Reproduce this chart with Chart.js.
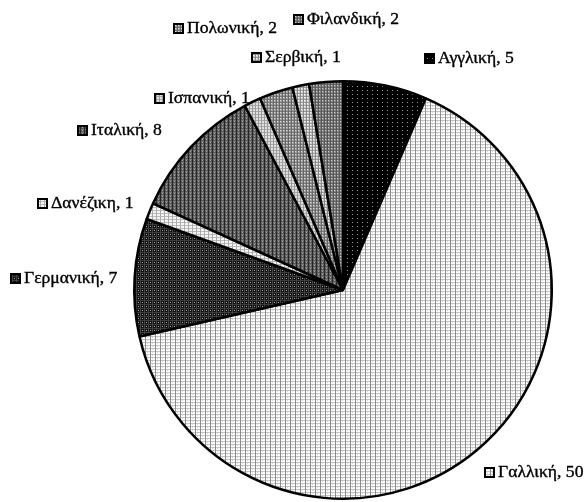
<!DOCTYPE html>
<html>
<head>
<meta charset="utf-8">
<script src="https://cdn.jsdelivr.net/npm/chart.js@4.4.0/dist/chart.umd.min.js"></script>
<style>
html,body{margin:0;padding:0;background:#fff;}
#wrap{width:588px;height:502px;}
</style>
</head>
<body>
<div id="wrap"><canvas id="c" width="588" height="502"></canvas></div>
<script>
const categories = ["Αγγλική","Γαλλική","Γερμανική","Δανέζικη","Ιταλική","Ισπανική","Πολωνική","Σερβική","Φιλανδική"];
const values = [5,50,7,1,8,1,2,1,2];

const patternSpecs = [
  {w:5,h:4,bg:"#000",v:null,h1:null,dot:"#9a9a9a"},
  {w:5,h:3,bg:"#fff",v:"#8a8a8a",h1:"#c4c4c4",dot:"#d8d8d8"},
  {w:4,h:4,bg:"#111",v:"#444",h1:"#3a3a3a",dot:"#b0b0b0"},
  {w:4,h:3,bg:"#f4f4f4",v:"#aaa",h1:"#bbb",dot:null},
  {w:4,h:3,bg:"#555",v:"#262626",h1:"#767676",dot:"#aaa"},
  {w:3,h:3,bg:"#e0e0e0",v:"#999",h1:"#aaa",dot:null},
  {w:3,h:3,bg:"#a0a0a0",v:"#666",h1:"#777",dot:"#ddd"},
  {w:3,h:3,bg:"#d0d0d0",v:"#888",h1:"#999",dot:"#fff"},
  {w:3,h:3,bg:"#888",v:"#555",h1:"#666",dot:"#ccc"}
];

function makePattern(ctx, s){
  const t = document.createElement("canvas");
  t.width = s.w; t.height = s.h;
  const g = t.getContext("2d");
  g.fillStyle = s.bg; g.fillRect(0,0,s.w,s.h);
  if (s.h1){ g.fillStyle = s.h1; g.fillRect(0,0,s.w,1); }
  if (s.v){ g.fillStyle = s.v; g.fillRect(0,0,1,s.h); }
  if (s.dot){ g.fillStyle = s.dot; g.fillRect(Math.floor(s.w/2), Math.floor(s.h/2), 1, 1); }
  return ctx.createPattern(t, "repeat");
}

// label anchor positions relative to pie centre, in units of the radius
const labelAnchors = [
  [0.388,-1.110],[0.676,0.871],[-1.595,-0.057],[-1.467,-0.415],
  [-1.276,-0.767],[-0.905,-0.919],[-0.814,-1.257],[-0.443,-1.114],[-0.238,-1.300]
];

const canvas = document.getElementById("c");
const ctx = canvas.getContext("2d");
const fills = patternSpecs.map(s => makePattern(ctx, s));

const labelPlugin = {
  id: "outLabels",
  afterDatasetsDraw(chart){
    const meta = chart.getDatasetMeta(0);
    const arc0 = meta.data[0];
    const cx = arc0.x, cy = arc0.y, r = arc0.outerRadius;
    const c = chart.ctx;
    categories.forEach((name,i)=>{
      const a = labelAnchors[i];
      const x = Math.round(cx + a[0]*r), y = Math.round(cy + a[1]*r);
      c.save();
      c.fillStyle = fills[i];
      c.fillRect(x, y-5, 11, 11);
      c.strokeStyle = "#000"; c.lineWidth = 2;
      c.strokeRect(x+1, y-4, 9, 9);
      c.restore();
      c.save();
      c.font = "16px 'Liberation Serif', serif";
      c.textBaseline = "middle";
      c.textAlign = "left";
      c.fillStyle = "#000";
      c.strokeStyle = "#000";
      c.lineWidth = 0.35;
      c.translate(x + 14, y + 1);
      c.scale(1.1, 1);
      const txt = name + ", " + values[i];
      c.fillText(txt, 0, 0);
      c.strokeText(txt, 0, 0);
      c.restore();
    });
  }
};

new Chart(ctx, {
  type: "pie",
  data: {
    labels: categories,
    datasets: [{
      data: values,
      backgroundColor: fills,
      borderColor: "#000",
      borderWidth: 2.5,
      borderAlign: "center"
    }]
  },
  options: {
    responsive: false,
    animation: false,
    events: [],
    layout: { padding: { left: 133, right: 35, top: 80, bottom: 2 } },
    plugins: { legend: { display: false }, tooltip: { enabled: false } }
  },
  plugins: [labelPlugin]
});
</script>
</body>
</html>
